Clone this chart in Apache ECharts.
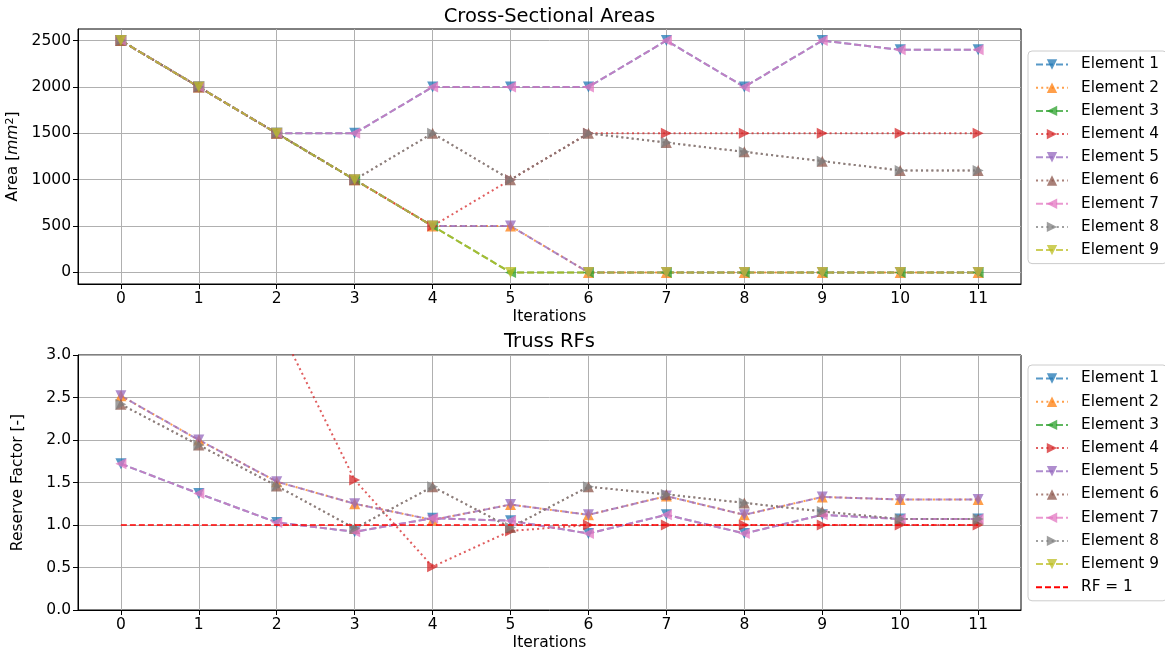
<!DOCTYPE html>
<html>
<head>
<meta charset="utf-8">
<title>Truss sizing</title>
<script src="https://cdn.jsdelivr.net/npm/echarts@6/dist/echarts.min.js"></script>
<style>
  html, body { margin: 0; padding: 0; background: #fff; }
  #chart { width: 1165px; height: 653px; }
</style>
</head>
<body>
<div id="chart"></div>
<script>
var iterations = [0, 1, 2, 3, 4, 5, 6, 7, 8, 9, 10, 11]
var elementNames = ['Element 1', 'Element 2', 'Element 3', 'Element 4', 'Element 5',
  'Element 6', 'Element 7', 'Element 8', 'Element 9']
var limitName = 'RF = 1'

// cross-sectional areas [mm^2]
var area1 = [2500, 2000, 1500, 1500, 2000, 2000, 2000, 2500, 2000, 2500, 2400, 2400]
var area2 = [2500, 2000, 1500, 1000, 500, 500, 0, 0, 0, 0, 0, 0]
var area3 = [2500, 2000, 1500, 1000, 500, 0, 0, 0, 0, 0, 0, 0]
var area4 = [2500, 2000, 1500, 1000, 500, 1000, 1500, 1500, 1500, 1500, 1500, 1500]
var area5 = [2500, 2000, 1500, 1000, 500, 500, 0, 0, 0, 0, 0, 0]
var area6 = [2500, 2000, 1500, 1000, 1500, 1000, 1500, 1400, 1300, 1200, 1100, 1100]
var area7 = [2500, 2000, 1500, 1500, 2000, 2000, 2000, 2500, 2000, 2500, 2400, 2400]
var area8 = [2500, 2000, 1500, 1000, 1500, 1000, 1500, 1400, 1300, 1200, 1100, 1100]
var area9 = [2500, 2000, 1500, 1000, 500, 0, 0, 0, 0, 0, 0, 0]

// reserve factors [-] (element 3 and 9 never show inside the plotted range)
var rf1 = [1.72, 1.37, 1.03, 0.92, 1.08, 1.05, 0.90, 1.12, 0.90, 1.12, 1.07, 1.07]
var rf2 = [2.52, 2.00, 1.51, 1.25, 1.06, 1.24, 1.12, 1.34, 1.12, 1.33, 1.30, 1.30]
var rf3 = [null, null, null, null, null, null, null, null, null, null, null, null]
var rf4 = [6.50, 4.80, 3.39, 1.53, 0.51, 0.93, 1.00, 1.00, 1.00, 1.00, 1.00, 1.00]
var rf5 = [2.52, 2.00, 1.51, 1.25, 1.06, 1.24, 1.12, 1.34, 1.12, 1.33, 1.30, 1.30]
var rf6 = [2.42, 1.94, 1.46, 0.96, 1.45, 0.97, 1.45, 1.36, 1.26, 1.16, 1.07, 1.07]
var rf7 = [1.72, 1.37, 1.03, 0.92, 1.08, 1.05, 0.90, 1.12, 0.90, 1.12, 1.07, 1.07]
var rf8 = [2.42, 1.94, 1.46, 0.96, 1.45, 0.97, 1.45, 1.36, 1.26, 1.16, 1.07, 1.07]
var rf9 = [null, null, null, null, null, null, null, null, null, null, null, null]
var rfLimit = [1, 1, 1, 1, 1, 1, 1, 1, 1, 1, 1, 1]

var areaTicks = [0, 500, 1000, 1500, 2000, 2500]

var areas = [area1, area2, area3, area4, area5, area6, area7, area8, area9]
var rfs = [rf1, rf2, rf3, rf4, rf5, rf6, rf7, rf8, rf9]

// matplotlib look: tab10 colours, v ^ < > markers, dashed / dotted lines
var colors = ['#1f77b4', '#ff7f0e', '#2ca02c', '#d62728', '#9467bd', '#8c564b', '#e377c2', '#7f7f7f', '#bcbd22']
var rotations = [180, 0, 90, -90, 180, 0, 90, -90, 180]
var dashed = [7, 3]
var dotted = [2, 3.2]
var font = 'DejaVu Sans'

function pairs (values) {
  return iterations.map(function (x, i) { return [x, values[i]] })
}

function elementSeries (i, values, axis) {
  return {
    name: elementNames[i],
    type: 'line',
    xAxisIndex: axis,
    yAxisIndex: axis,
    data: pairs(values),
    symbol: 'triangle',
    symbolSize: 11,
    symbolRotate: rotations[i],
    showAllSymbol: true,
    connectNulls: false,
    color: colors[i],
    lineStyle: { width: 2, type: i % 2 === 0 ? dashed : dotted, opacity: 0.75 },
    itemStyle: { opacity: 0.75 },
    emphasis: { disabled: true },
    z: 2
  }
}

var series = []
for (var i = 0; i < 9; i++) series.push(elementSeries(i, areas[i], 0))
for (i = 0; i < 9; i++) series.push(elementSeries(i, rfs[i], 1))
series.push({
  name: limitName,
  type: 'line',
  xAxisIndex: 1,
  yAxisIndex: 1,
  data: pairs(rfLimit),
  symbol: 'none',
  color: '#ff0000',
  lineStyle: { width: 1.5, type: [6, 3] },
  emphasis: { disabled: true },
  z: 3
})

function xAxis (grid) {
  return {
    type: 'value',
    gridIndex: grid,
    min: -0.55,
    max: 11.55,
    name: 'Iterations',
    nameLocation: 'middle',
    nameGap: 25,
    nameTextStyle: { fontFamily: font, fontSize: 15.5, color: '#000' },
    axisLine: { show: true, onZero: false, lineStyle: { color: '#000', width: 1 } },
    axisTick: { show: true, length: 5, lineStyle: { color: '#000' }, customValues: iterations },
    axisLabel: { margin: 7, fontFamily: font, fontSize: 15.5, color: '#000', customValues: iterations },
    splitLine: { show: true, lineStyle: { color: '#b0b0b0', width: 1 } }
  }
}

var titleStyle = { fontFamily: font, fontSize: 19.5, fontWeight: 'normal', color: '#000' }
var legendBase = {
  orient: 'vertical',
  left: 1028,
  itemWidth: 32,
  itemHeight: 13,
  itemGap: 8.2,
  padding: [6, 8, 6, 7],
  backgroundColor: '#fff',
  borderColor: '#cccccc',
  borderWidth: 1,
  borderRadius: 4,
  selectedMode: false,
  textStyle: { fontFamily: font, fontSize: 15.3, color: '#000', padding: [0, 0, 0, 8] }
}

var gridBase = {
  left: 78,
  width: 943,
  height: 255,
  show: true,
  borderColor: '#000',
  borderWidth: 1,
  backgroundColor: 'transparent',
  containLabel: false,
  outerBoundsMode: 'none'
}

var option = {
  animation: false,
  backgroundColor: '#fff',
  title: [
    { text: 'Cross-Sectional Areas', left: 549.5, top: 7, textAlign: 'center', padding: 0, textStyle: titleStyle },
    { text: 'Truss RFs', left: 549.5, top: 332, textAlign: 'center', padding: 0, textStyle: titleStyle }
  ],
  legend: [
    Object.assign({}, legendBase, { top: 51, data: elementNames }),
    Object.assign({}, legendBase, {
      top: 365,
      data: elementNames.concat([{ name: limitName, itemStyle: { color: 'rgba(0,0,0,0)' } }])
    })
  ],
  grid: [
    Object.assign({}, gridBase, { top: 29 }),
    Object.assign({}, gridBase, { top: 355 })
  ],
  xAxis: [xAxis(0), xAxis(1)],
  yAxis: [
    {
      type: 'value',
      gridIndex: 0,
      min: -125,
      max: 2625,
      name: '{n|Area [}{i|mm}{s|2}{n|]}',
      nameLocation: 'middle',
      nameGap: 52,
      nameTextStyle: {
        fontFamily: font, fontSize: 15.5, color: '#000',
        rich: {
          n: { fontFamily: font, fontSize: 15.5, color: '#000' },
          i: { fontFamily: font, fontSize: 15.5, fontStyle: 'italic', color: '#000' },
          s: { fontFamily: font, fontSize: 11, color: '#000', verticalAlign: 'top', padding: [0, 0, 6, 0] }
        }
      },
      axisLine: { show: true, onZero: false, lineStyle: { color: '#000', width: 1 } },
      axisTick: { show: true, length: 5, lineStyle: { color: '#000' }, customValues: areaTicks },
      axisLabel: {
        margin: 7, fontFamily: font, fontSize: 15.5, color: '#000', customValues: areaTicks,
        formatter: function (v) { return String(v) }
      },
      splitLine: { show: true, lineStyle: { color: '#b0b0b0', width: 1 } }
    },
    {
      type: 'value',
      gridIndex: 1,
      min: 0,
      max: 3,
      interval: 0.5,
      name: 'Reserve Factor [-]',
      nameLocation: 'middle',
      nameGap: 52,
      nameTextStyle: { fontFamily: font, fontSize: 15.5, color: '#000' },
      axisLine: { show: true, onZero: false, lineStyle: { color: '#000', width: 1 } },
      axisTick: { show: true, length: 5, lineStyle: { color: '#000' } },
      axisLabel: {
        margin: 7, fontFamily: font, fontSize: 15.5, color: '#000',
        formatter: function (v) { return v.toFixed(1) }
      },
      splitLine: { show: true, lineStyle: { color: '#b0b0b0', width: 1 } }
    }
  ],
  series: series
}

var chart = echarts.init(document.getElementById('chart'))
chart.setOption(option)
</script>
</body>
</html>
